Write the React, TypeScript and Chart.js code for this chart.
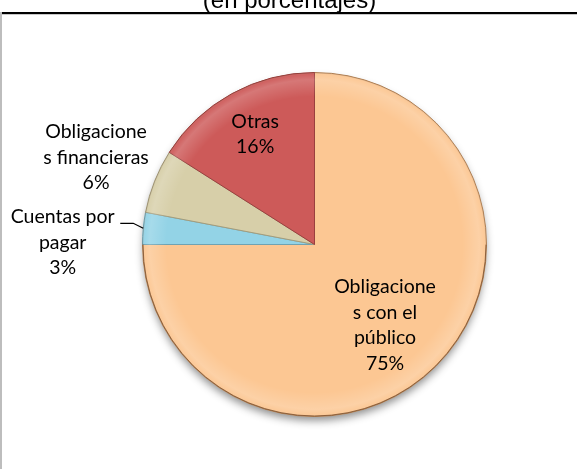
import React, { useEffect, useRef } from "react";
import { Chart, registerables } from "chart.js";
Chart.register(...registerables);

const categories = ["Obligaciones con el público", "Cuentas por pagar", "Obligaciones financieras", "Otras"];
const labelLines = [["Obligacione", "s con el", "público"], ["Cuentas por", "pagar"], ["Obligacione", "s financieras"], ["Otras"]];
const values = [75, 3, 6, 16];
const colors = ["#FCC793", "#93D3E6", "#D7CFA9", "#CD5A59"];
const borderColors = ["#B98A5E", "#6FA3B3", "#A49D7C", "#9A3F3E"];
// label anchor offsets relative to pie centre, in radius units
const labelOffX = [0.41, -1.464, -1.27, -0.345];
const labelOffY = [0.47, -0.012, -0.507, -0.64];
const titleText = "(en porcentajes)";

const W = 577;
const H = 469;
const LABEL_FONT = "19.5px Lato, 'Open Sans', sans-serif";
const LINE_H = 25.5;

const decorPlugin = {
  id: "decor",
  beforeDraw(chart: any) {
    const ctx = chart.ctx;
    ctx.save();
    ctx.fillStyle = "#ffffff";
    ctx.fillRect(0, 0, W, H);
    ctx.fillStyle = "#000";
    ctx.font = "24px 'Liberation Sans', Arial, sans-serif";
    ctx.textAlign = "center";
    ctx.textBaseline = "alphabetic";
    ctx.fillText(titleText, 289.5, 8);
    // frame
    ctx.fillStyle = "#ffffff";
    ctx.fillRect(0, 12, W, H);
    ctx.fillStyle = "#000";
    ctx.fillRect(0, 12, W, 2);
    ctx.fillStyle = "#c8c8c8";
    ctx.fillRect(0, 14, W, 1);
    ctx.fillStyle = "#bdbdbd";
    ctx.fillRect(0, 12, 2, H);
    ctx.restore();
  },
  beforeDatasetsDraw(chart: any) {
    const arc = chart.getDatasetMeta(0).data[0];
    if (!arc) return;
    const ctx = chart.ctx;
    ctx.save();
    ctx.shadowColor = "rgba(0,0,0,0.45)";
    ctx.shadowBlur = 9;
    ctx.shadowOffsetY = 5;
    ctx.fillStyle = "#fff";
    ctx.beginPath();
    ctx.arc(arc.x, arc.y, arc.outerRadius - 1, 0, Math.PI * 2);
    ctx.fill();
    ctx.restore();
  },
  afterDatasetsDraw(chart: any) {
    const meta = chart.getDatasetMeta(0);
    const arcs = meta.data;
    if (!arcs.length) return;
    const ctx = chart.ctx;
    const cx = arcs[0].x;
    const cy = arcs[0].y;
    const r = arcs[0].outerRadius;
    ctx.save();
    // bevel highlight ring
    const g = ctx.createRadialGradient(cx, cy, r * 0.86, cx, cy, r);
    g.addColorStop(0, "rgba(255,255,255,0)");
    g.addColorStop(0.7, "rgba(255,255,255,0.18)");
    g.addColorStop(0.92, "rgba(255,255,255,0.05)");
    g.addColorStop(1, "rgba(90,50,20,0.25)");
    ctx.fillStyle = g;
    ctx.beginPath();
    ctx.arc(cx, cy, r, 0, Math.PI * 2);
    ctx.fill();
    ctx.strokeStyle = "rgba(120,75,40,0.75)";
    ctx.lineWidth = 1;
    ctx.beginPath();
    ctx.arc(cx, cy, r - 0.5, 0, Math.PI);
    ctx.stroke();
    // labels
    const total = values.reduce((a, b) => a + b, 0);
    ctx.fillStyle = "#000";
    ctx.font = LABEL_FONT;
    ctx.textAlign = "center";
    ctx.textBaseline = "middle";
    arcs.forEach((a: any, i: number) => {
      const lines = [...labelLines[i], Math.round((values[i] / total) * 100) + "%"];
      const lx = cx + labelOffX[i] * r;
      const ly = cy + labelOffY[i] * r;
      const y0 = ly - ((lines.length - 1) * LINE_H) / 2;
      lines.forEach((t, k) => ctx.fillText(t, lx, y0 + k * LINE_H));
    });
    // leader line for "Cuentas por pagar"
    const b = arcs[1];
    const mid = (b.startAngle + b.endAngle) / 2;
    const ex = cx + Math.cos(mid) * r;
    const ey = cy + Math.sin(mid) * r;
    ctx.strokeStyle = "#000";
    ctx.lineWidth = 1.2;
    ctx.beginPath();
    ctx.moveTo(ex, ey);
    ctx.lineTo(ex - 10, ey - 5);
    ctx.lineTo(ex - 23, ey - 5);
    ctx.stroke();
    ctx.restore();
  },
};

export default function App() {
  const ref = useRef<HTMLCanvasElement | null>(null);
  useEffect(() => {
    document.body.style.margin = "0";
    if (!ref.current) return;
    const chart = new Chart(ref.current, {
      type: "pie",
      data: {
        labels: categories,
        datasets: [
          {
            data: values,
            backgroundColor: colors,
            borderColor: borderColors,
            borderWidth: 1,
          },
        ],
      },
      options: {
        responsive: false,
        animation: false,
        events: [],
        layout: { padding: { top: 72, bottom: 52, left: 142, right: 90 } },
        plugins: {
          legend: { display: false },
          tooltip: { enabled: false },
          title: { display: false },
        },
      },
      plugins: [decorPlugin],
    });
    return () => chart.destroy();
  }, []);
  return (
    <div style={{ position: "absolute", left: 0, top: 0, width: W, height: H }}>
      <canvas ref={ref} width={W} height={H} style={{ width: W, height: H, display: "block" }} />
    </div>
  );
}
